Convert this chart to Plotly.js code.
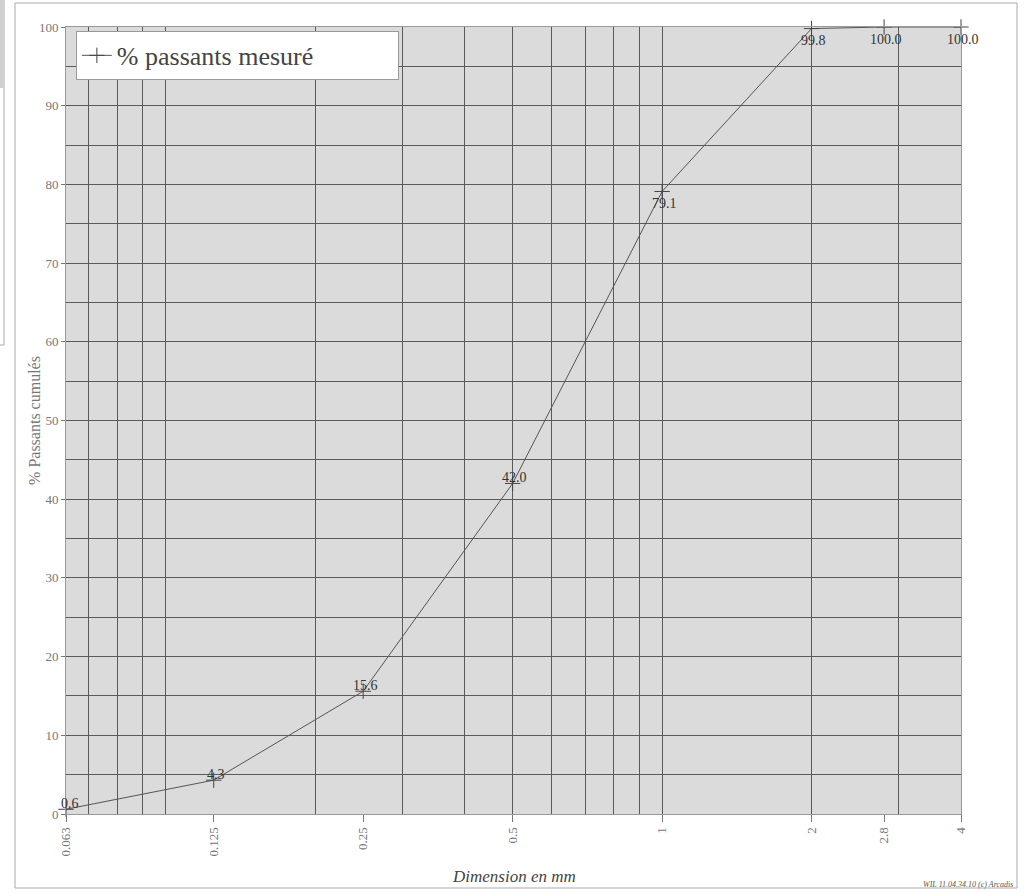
<!DOCTYPE html>
<html>
<head>
<meta charset="utf-8">
<script src="https://cdn.plot.ly/plotly-3.0.1.min.js"></script>
<style>html,body{margin:0;padding:0;background:#fff;}#chart{width:1027px;height:893px;}</style>
</head>
<body>
<div id="chart"></div>
<script>
// ---- data ----
const sieveSizes = [0.063, 0.125, 0.25, 0.5, 1, 2, 2.8, 4];
const passingPct = [0.6, 4.3, 15.6, 42.0, 79.1, 99.8, 100.0, 100.0];
const pointLabels = ["0.6", "4.3", "15.6", "42.0", "79.1", "99.8", "100.0", "100.0"];
const tickValues = [0.063, 0.125, 0.25, 0.5, 1, 2, 2.8, 4];
const tickLabels = ["0.063", "0.125", "0.25", "0.5", "1", "2", "2.8", "4"];
const gridValues = [0.07, 0.08, 0.09, 0.1, 0.2, 0.3, 0.4, 0.5, 0.6, 0.7, 0.8, 0.9, 1, 2, 3];
const yTickValues = [0, 10, 20, 30, 40, 50, 60, 70, 80, 90, 100];

const serif = "'Liberation Serif', 'Times New Roman', serif";
const xRange = [Math.log10(0.063), Math.log10(4)];

const traces = [
  { // invisible trace to carry the grid axis
    x: sieveSizes, y: passingPct, xaxis: 'x', yaxis: 'y',
    mode: 'markers', marker: {opacity: 0}, hoverinfo: 'skip', showlegend: false
  },
  {
    x: sieveSizes, y: passingPct, xaxis: 'x2', yaxis: 'y',
    name: '% passants mesuré',
    mode: 'lines+markers',
    line: {color: '#555', width: 1},
    marker: {symbol: 'cross-thin', size: 11, line: {color: '#444', width: 1}, color: '#444'},
    cliponaxis: false
  }
];

const annotations = sieveSizes.map((s, i) => ({
  x: Math.log10(s), y: passingPct[i], xref: 'x2', yref: 'y',
  text: pointLabels[i], showarrow: false,
  yshift: passingPct[i] > 75 ? -12 : 6,
  xshift: i === 0 ? 4 : 2,
  font: {family: serif, size: 14, color: '#333'}
}));

annotations.push({
  xref: 'paper', yref: 'paper', x: 0.5, y: -0.079, yanchor: 'middle',
  text: '<i>Dimension en mm</i>', showarrow: false,
  font: {family: serif, size: 17, color: '#444'}
});
annotations.push({
  xref: 'paper', yref: 'paper', x: -0.047, y: 0.5, textangle: -90,
  text: '% Passants cumulés', showarrow: false,
  font: {family: serif, size: 16, color: '#777'}
});
annotations.push({
  xref: 'paper', yref: 'paper', x: 1.06, xanchor: 'right', y: -0.09, yanchor: 'middle',
  text: '<i>WIL 11.04.34.10 (c) Arcadis</i>', showarrow: false,
  font: {family: serif, size: 8, color: '#555'}
});

const layout = {
  width: 1027, height: 893,
  margin: {l: 66, r: 66, t: 27, b: 79},
  paper_bgcolor: '#ffffff',
  plot_bgcolor: '#dbdbdb',
  font: {family: serif, color: '#777'},
  showlegend: true,
  legend: {
    orientation: 'h',
    x: 0.011, y: 0.995, xanchor: 'left', yanchor: 'top',
    bgcolor: '#ffffff', bordercolor: '#999', borderwidth: 1,
    font: {family: serif, size: 26, color: '#444'},
    itemwidth: 30, entrywidth: 276, entrywidthmode: 'pixels', tracegroupgap: 0
  },
  xaxis: {
    type: 'log', range: xRange,
    tickmode: 'array', tickvals: gridValues, showticklabels: false, ticks: '',
    showgrid: true, gridcolor: '#5a5a5a', gridwidth: 1,
    zeroline: false, showline: false, fixedrange: true
  },
  xaxis2: {
    type: 'log', range: xRange, overlaying: 'x', anchor: 'y', side: 'bottom',
    tickmode: 'array', tickvals: tickValues, ticktext: tickLabels,
    tickangle: -90, ticks: 'outside', ticklen: 7, tickcolor: '#777',
    tickfont: {family: serif, size: 13, color: '#777'},
    showgrid: false, zeroline: false,
    showline: true, linecolor: '#999', linewidth: 1, mirror: true
  },
  yaxis: {
    range: [0, 100],
    tickmode: 'array', tickvals: yTickValues,
    ticks: 'outside', ticklen: 4, tickcolor: '#777',
    tickfont: {family: serif, size: 13, color: '#777'},
    showgrid: true, gridcolor: '#5a5a5a', gridwidth: 1,
    minor: {dtick: 5, showgrid: true, gridcolor: '#5a5a5a', gridwidth: 1},
    zeroline: false, showline: true, linecolor: '#999', linewidth: 1, mirror: true
  },
  annotations: annotations,
  shapes: [
    { // outer frame
      type: 'rect', xref: 'paper', yref: 'paper',
      x0: (15 - 66) / 895, x1: (1017 - 66) / 895,
      y0: (814 - 888) / 787, y1: (814 - 3) / 787,
      line: {color: '#aaa', width: 1}
    },
    { // cut-off neighbouring table at left edge
      type: 'rect', xref: 'paper', yref: 'paper',
      x0: (-2 - 66) / 895, x1: (4 - 66) / 895,
      y0: (814 - 345) / 787, y1: (814 - 0) / 787,
      line: {color: '#aaa', width: 1}, fillcolor: 'rgba(0,0,0,0)'
    },
    { // grey header cells of that table
      type: 'rect', xref: 'paper', yref: 'paper',
      x0: (-2 - 66) / 895, x1: (4 - 66) / 895,
      y0: (814 - 88) / 787, y1: (814 - 0) / 787,
      line: {width: 0}, fillcolor: '#cfcfcf'
    }
  ]
};

Plotly.newPlot('chart', traces, layout, {displayModeBar: false, staticPlot: true});
</script>
</body>
</html>
